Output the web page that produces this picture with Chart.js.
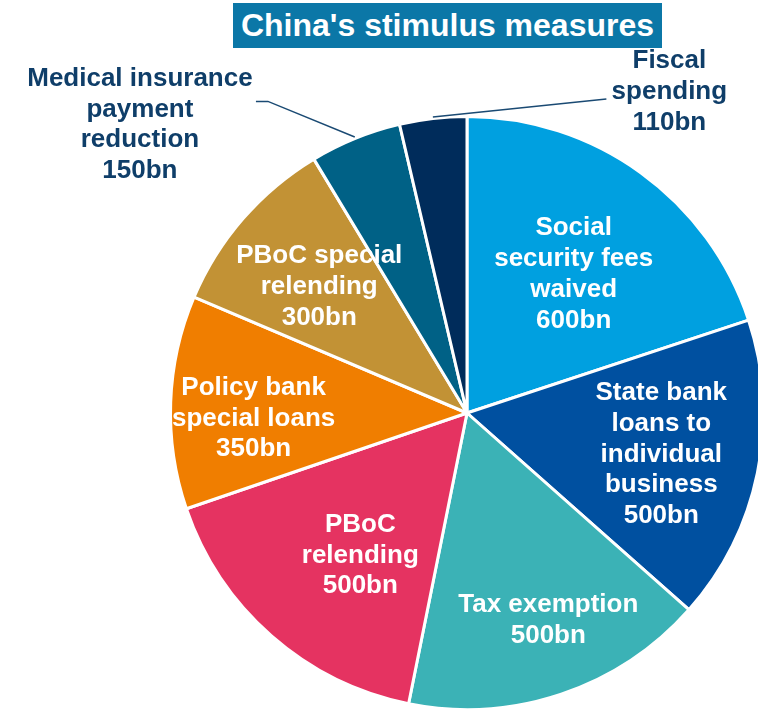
<!DOCTYPE html>
<html>
<head>
<meta charset="utf-8">
<title>China's stimulus measures</title>
<script src="https://cdn.jsdelivr.net/npm/chart.js@4.4.1/dist/chart.umd.min.js"></script>
<style>
  body { margin: 0; background: #fff; overflow: hidden; }
  #wrap { position: relative; width: 758px; height: 711px; overflow: hidden; }
  #title {
    position: absolute; left: 233px; top: 3px; width: 429px; height: 45px;
    background: #0b77a7; color: #fff; z-index: 2;
    font: bold 32px "Liberation Sans", Arial, sans-serif;
    text-align: center; line-height: 45px;
  }
  #myPieChart { position: absolute; left: 0; top: 0; }
</style>
</head>
<body>
<div id="wrap">
  <div id="title">China's stimulus measures</div>
  <canvas id="myPieChart" width="800" height="711"></canvas>
</div>
<script>
// measures, clockwise from 12 o'clock
var categories = ['Social security fees waived', 'State bank loans to individual business', 'Tax exemption',
  'PBoC relending', 'Policy bank special loans', 'PBoC special relending',
  'Medical insurance payment reduction', 'Fiscal spending'];
var values = [600, 500, 500, 500, 350, 300, 150, 110];
var sliceColors = ['#00a0e0', '#0050a0', '#3bb2b6', '#e53361', '#f07e00', '#c29235', '#006186', '#002c5b'];
// how each name is broken into lines on the chart
var nameLines = [
  ['Social', 'security fees', 'waived'],
  ['State bank', 'loans to', 'individual', 'business'],
  ['Tax exemption'],
  ['PBoC', 'relending'],
  ['Policy bank', 'special loans'],
  ['PBoC special', 'relending'],
  ['Medical insurance', 'payment', 'reduction'],
  ['Fiscal', 'spending']
];

// label spot: fraction of radius along the slice middle, plus a small turn in degrees
var labelPlace = [
  [0.59, 1.7], [0.67, 0.4], [0.75, -2.9], [0.6, -4.4],
  [0.72, -3.6], [0.655, -0.5], [1.47, -26.5], [1.28, 38.8]
];
var outside = [false, false, false, false, false, false, true, true];
// leader line bends, relative to the label centre
var leaders = {
  6: [[128, -23.5], [116, -23.5]],
  7: [[-63, 7]]
};

var sliceLabels = {
  id: 'sliceLabels',
  afterDatasetsDraw: function (chart) {
    var ctx = chart.ctx;
    var arcs = chart.getDatasetMeta(0).data;
    ctx.save();
    ctx.font = 'bold 26px "Liberation Sans", Arial, sans-serif';
    ctx.textAlign = 'center';
    ctx.textBaseline = 'middle';
    arcs.forEach(function (arc, i) {
      var mid = (arc.startAngle + arc.endAngle) / 2;
      var a = mid + labelPlace[i][1] * Math.PI / 180;
      var r = arc.outerRadius * labelPlace[i][0];
      var cx = arc.x + Math.cos(a) * r;
      var cy = arc.y + Math.sin(a) * r;
      var lines = nameLines[i].concat([values[i] + 'bn']);
      var lh = 30.7;

      if (outside[i]) {
        var sx = arc.x + Math.cos(mid) * arc.outerRadius * 1.005;
        var sy = arc.y + Math.sin(mid) * arc.outerRadius * 1.005;
        ctx.strokeStyle = '#1a4a73';
        ctx.lineWidth = 1.5;
        ctx.beginPath();
        ctx.moveTo(sx, sy);
        leaders[i].forEach(function (p) { ctx.lineTo(cx + p[0], cy + p[1]); });
        ctx.stroke();
      }

      ctx.fillStyle = outside[i] ? '#0f3e69' : '#ffffff';
      var top = cy - (lines.length - 1) * lh / 2;
      lines.forEach(function (t, k) {
        ctx.fillText(t, cx, top + k * lh);
      });
    });
    ctx.restore();
  }
};

var ctx = document.getElementById('myPieChart');
var myChart = new Chart(ctx, {
  type: 'pie',
  data: {
    labels: categories,
    datasets: [{
      data: values,
      backgroundColor: sliceColors,
      borderColor: '#ffffff',
      borderWidth: 3
    }]
  },
  options: {
    responsive: false,
    animation: false,
    layout: { padding: { left: 169, top: 115, right: 35, bottom: 0 } },
    plugins: {
      legend: { display: false },
      tooltip: { enabled: false }
    }
  },
  plugins: [sliceLabels]
});
</script>
</body>
</html>
